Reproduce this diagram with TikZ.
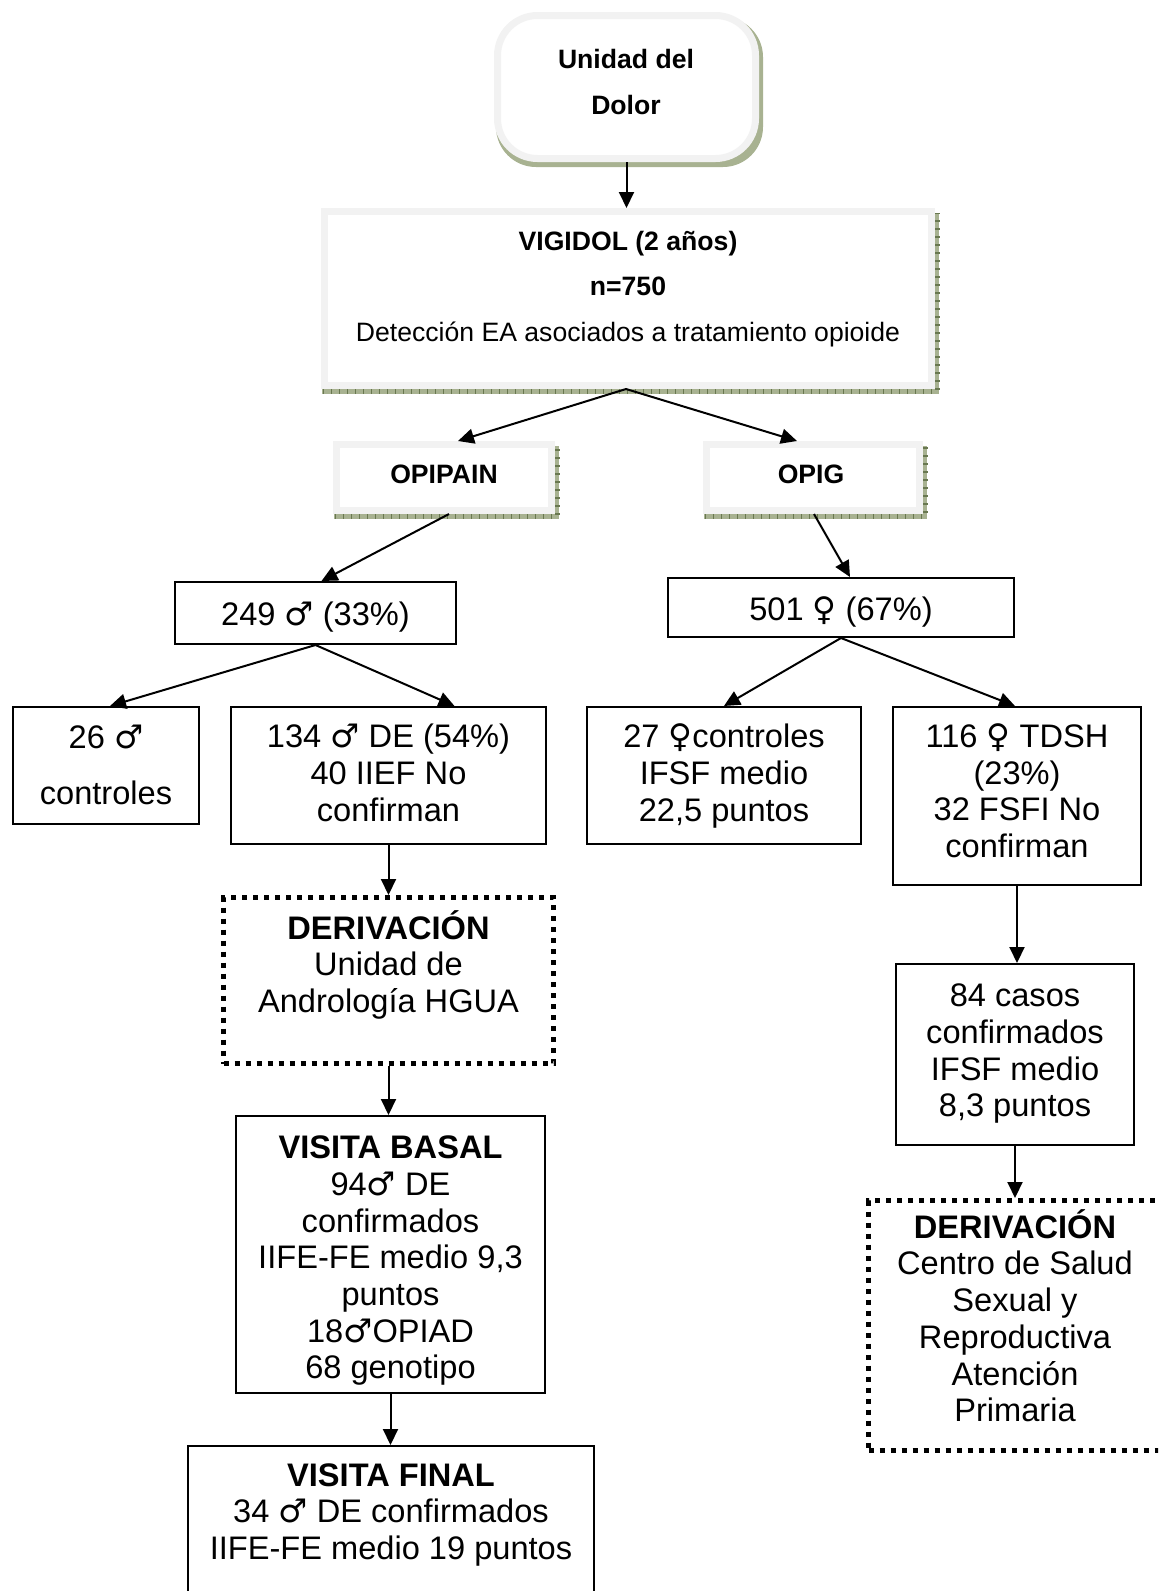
\documentclass[tikz,border=0pt]{standalone}
\usepackage{fontspec}
\setmainfont{Liberation Sans}
\newfontfamily\symf{DejaVu Sans}
\usetikzlibrary{arrows.meta,fit,backgrounds}
\newcommand\Msym{{\symf ♂}}
\newcommand\Fsym{{\symf ♀}}
\definecolor{lightedge}{RGB}{242,242,242}
\definecolor{shcol}{RGB}{168,178,145}
\definecolor{shtick}{RGB}{105,120,80}
\begin{document}
\begin{tikzpicture}[x=0.5pt,y=-0.5pt,
  big/.style={font=\fontsize{16.3pt}{18.35pt}\selectfont, align=center, inner sep=0pt,
    execute at begin node=\strut, execute at end node=\strut},
  small/.style={font=\fontsize{13.3pt}{22.8pt}\selectfont, align=center, inner sep=0pt},
  bbox/.style={draw=black, line width=1pt, fill=white, inner sep=0pt},
  sbox/.style={draw=lightedge, line width=3.5pt, fill=white, inner sep=0pt},
  dbox/.style={draw=black, line width=2.5pt, dash pattern=on 2.5pt off 3pt, inner sep=0pt},
  conn/.style={line width=1pt, -{Triangle[length=8pt,width=7.5pt]}}
]
\useasboundingbox (0,0) rectangle (1158,1591);
\clip (0,0) rectangle (1158,1591);

% shadowed boxes
\node[sbox, rounded corners=20pt, fit={(497.5,15.5)(755.5,158.5)}] (unidad) {};
\node[small] (tunidad) at (626,82) {\textbf{Unidad del}\\\textbf{Dolor}};
\node[sbox, fit={(324.5,211.5)(931.5,385.5)}] (vig) {};
\node[small] (tvig) at (628,289) {\textbf{VIGIDOL (2 años)}\\\textbf{n=750}\\Detección EA asociados a tratamiento opioide};
\node[sbox, fit={(336.5,444.5)(551.5,510.5)}] (opi) {};
\node[small] (topi) at (444,474) {\textbf{OPIPAIN}};
\node[sbox, fit={(706.5,444.5)(919.5,510.5)}] (opig) {};
\node[small] (topig) at (811,474) {\textbf{OPIG}};

\begin{scope}[on background layer]
\foreach \n in {vig,opi,opig}{
  \fill[shcol] ([shift={(0.5pt,-2.5pt)}]\n.south west) rectangle ([shift={(2pt,-2.5pt)}]\n.north east);
  \draw[shtick, line width=2.5pt, dash pattern=on 0.6pt off 3.4pt]
    ([shift={(1pt,-1.25pt)}]\n.south west) -- ([shift={(1pt,-1.25pt)}]\n.south east) -- ([shift={(1pt,-2.5pt)}]\n.north east);
}
\fill[shcol, rounded corners=20pt] ([shift={(1pt,-2.5pt)}]unidad.south west) rectangle ([shift={(2pt,-2.5pt)}]unidad.north east);
\end{scope}

% plain boxes
\node[bbox, fit={(175,582)(456,644)}] (b249) {};
\node[big] (t249) at (315.5,618) {249 \Msym{} (33\%)};
\node[bbox, fit={(668,578)(1014,637)}] (b501) {};
\node[big] (t501) at (841,613) {501 \Fsym{} (67\%)};
\node[bbox, fit={(13,707)(199,824)}] (b26) {};
\node[big, font=\fontsize{16.3pt}{28pt}\selectfont] (t26) at (106,773) {26 \Msym\\controles};
\node[bbox, fit={(231,707)(546,844)}] (b134) {};
\node[big] (t134) at (388.5,778) {134 \Msym{} DE (54\%)\\40 IIEF No\\confirman};
\node[bbox, fit={(587,707)(861,844)}] (b27) {};
\node[big] (t27) at (724,778) {27 \Fsym controles\\IFSF medio\\22,5 puntos};
\node[bbox, fit={(893,707)(1141,885)}] (b116) {};
\node[big] (t116) at (1017,796) {116 \Fsym{} TDSH\\(23\%)\\32 FSFI No\\confirman};
\node[dbox, fit={(223.5,897.5)(553.5,1063.5)}] (der1) {};
\node[big] (tder1) at (388.5,967) {\textbf{DERIVACIÓN}\\Unidad de\\Andrología HGUA};
\node[bbox, fit={(236,1116)(545,1393)}] (basal) {};
\node[big] (tbasal) at (390.5,1263) {\textbf{VISITA BASAL}\\94\Msym{} DE\\confirmados\\IIFE-FE medio 9,3\\puntos\\18\Msym OPIAD\\68 genotipo};
\node[bbox, fit={(188,1446)(594,1650)}] (final) {};
\node[big] (tfinal) at (391,1517) {\textbf{VISITA FINAL}\\34 \Msym{} DE confirmados\\IIFE-FE medio 19 puntos};
\node[bbox, fit={(896,964)(1134,1145)}] (b84) {};
\node[big] (t84) at (1015,1056) {84 casos\\confirmados\\IFSF medio\\8,3 puntos};
\node[dbox, fit={(868.5,1200.5)(1200,1450.5)}] (der2) {};
\node[big] (tder2) at (1015,1321) {\textbf{DERIVACIÓN}\\Centro de Salud\\Sexual y\\Reproductiva\\Atención\\Primaria};

% connectors
\draw[conn] (unidad.south) -- (unidad.south |- vig.north);
\draw[conn] ([xshift=-1pt]vig.south) -- ([xshift=7pt]opi.north);
\draw[conn] ([xshift=-1pt]vig.south) -- ([xshift=-8pt]opig.north);
\draw[conn] ([xshift=2.5pt]opi.south) -- ([xshift=3pt]b249.north);
\draw[conn] ([xshift=0.5pt]opig.south) -- ([xshift=4.5pt]b501.north);
\draw[conn] (b249.south) -- ([xshift=2pt]b26.north);
\draw[conn] (b249.south) -- ([xshift=33pt]b134.north);
\draw[conn] (b501.south) -- (b27.north);
\draw[conn] (b501.south) -- ([xshift=-1pt]b116.north);
\draw[conn] (b134.south) -- (der1.north);
\draw[conn] (der1.south) -- (der1.south |- basal.north);
\draw[conn] (basal.south) -- (basal.south |- final.north);
\draw[conn] (b116.south) -- (b116.south |- b84.north);
\draw[conn] (b84.south) -- (b84.south |- der2.north);
\end{tikzpicture}
\end{document}
